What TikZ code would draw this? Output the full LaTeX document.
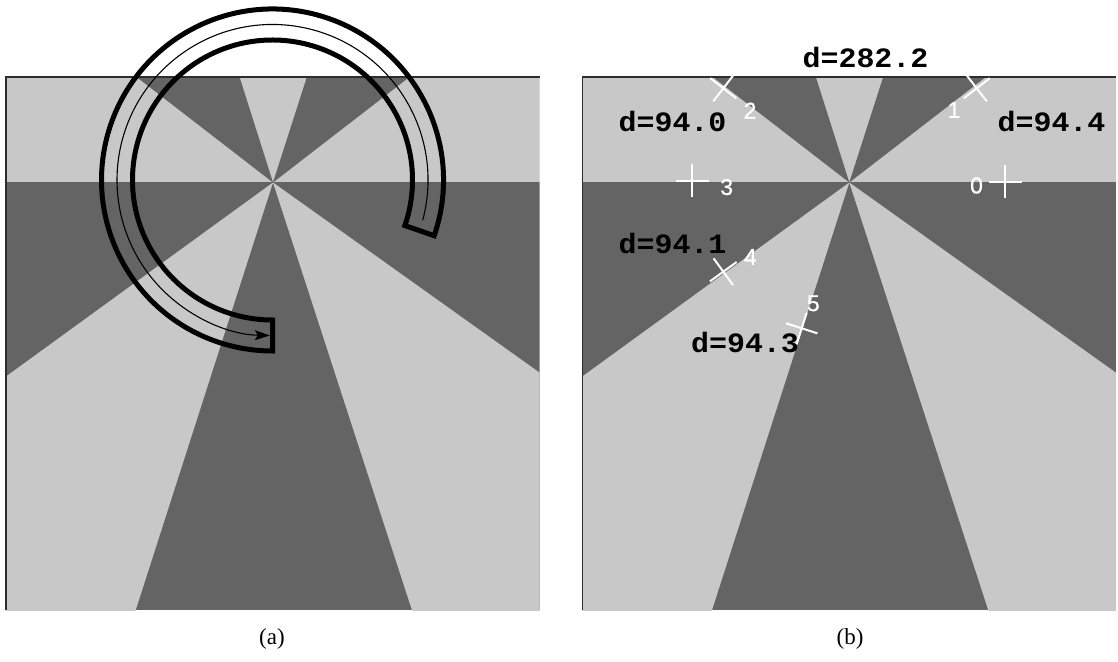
\documentclass[tikz,border=0pt]{standalone}
\usepackage{fontspec}
\usepackage{graphicx}
\setmainfont{Liberation Serif}
\newfontfamily\monofam{Liberation Mono}
\newfontfamily\digfam{Liberation Sans}[FakeBold=0.8]
\usetikzlibrary{arrows.meta}
\definecolor{lightg}{RGB}{200,200,200}
\definecolor{darkg}{RGB}{100,100,100}
\definecolor{framec}{RGB}{45,45,45}
\tikzset{
  ringline/.style={line width=5pt, black, line join=miter},
  midline/.style={line width=1.1pt, black, -{Stealth[length=15pt,width=10pt,inset=3pt]}},
  frameline/.style={line width=1.2pt, framec},
  mk/.style={white, line width=2pt},
  dlabel/.style={inner sep=0pt, anchor=base, font=\monofam\bfseries\fontsize{28}{28}\selectfont},
  numlabel/.style={inner sep=0pt, white, font=\digfam\fontsize{23}{23}\selectfont},
  caplabel/.style={inner sep=0pt, font=\fontsize{23}{23}\selectfont}
}
\newcommand\drawpanelbg{%
  \begin{scope}
    \clip (6,51) rectangle (539.5,584);
    \fill[lightg] (6,478.5) rectangle (539.5,584);
    \fill[darkg] (6,51) rectangle (539.5,478.5);
    \fill[darkg, shift={(273,478.5)}] (0,0) -- (37.7:900) -- (72.2:900) -- cycle;
    \fill[darkg, shift={(273,478.5)}] (0,0) -- (107.6:900) -- (142.3:900) -- cycle;
    \fill[lightg, shift={(273,478.5)}] (0,0) -- (216:900) -- (252.2:900) -- cycle;
    \fill[lightg, shift={(273,478.5)}] (0,0) -- (288:900) -- (324.5:900) -- cycle;
  \end{scope}
  \draw[frameline] (6,51) -- (6,584) -- (539.5,584);
}
\begin{document}
\begin{tikzpicture}[x=1pt,y=1pt]
\useasboundingbox (0,0) rectangle (1118,661);
% panel (a)
\drawpanelbg
\draw[ringline] (272.5,481) ++(-19:171) arc[start angle=-19,end angle=270,radius=171]
   -- ++(0,31) arc[start angle=270,end angle=-19,radius=140] -- cycle;
\draw[midline] (272.5,481) ++(-15:155.5) arc[start angle=-15,end angle=269,radius=155.5];
% panel (b)
\begin{scope}[shift={(576.3,0)}]
\drawpanelbg
\end{scope}
\node[dlabel] (d0) at (865.5,593) {\scalebox{1.07}[1]{d=282.2}};
\node[dlabel] (d1) at (1051.5,529) {\scalebox{1.07}[1]{d=94.4}};
\node[dlabel] (d2) at (672.5,529) {\scalebox{1.07}[1]{d=94.0}};
\node[dlabel] (d3) at (672.5,407.7) {\scalebox{1.07}[1]{d=94.1}};
\node[dlabel] (d4) at (745,308) {\scalebox{1.07}[1]{d=94.3}};
\begin{scope}
\clip (582.3,51) rectangle (1115.8,584);
\draw[mk, shift={(1005,479.3)}] (-16.5,0) -- (16.5,0) (0,-16.5) -- (0,16.5);
\draw[mk, shift={(976.7,572.7)}, rotate=37.7] (-16.5,0) -- (16.5,0) (0,-16.5) -- (0,16.5);
\draw[mk, shift={(723.3,572.7)}, rotate=142.3] (-16.5,0) -- (16.5,0) (0,-16.5) -- (0,16.5);
\draw[mk, shift={(692.3,480)}] (-16.5,0) -- (16.5,0) (0,-16.5) -- (0,16.5);
\draw[mk, shift={(723.3,389.3)}, rotate=36] (-16.5,0) -- (16.5,0) (0,-16.5) -- (0,16.5);
\draw[mk, shift={(801.7,332.7)}, rotate=72.2] (-16.5,0) -- (16.5,0) (0,-16.5) -- (0,16.5);
\end{scope}
\node[numlabel] (n0) at (976.5,475.5) {0};
\node[numlabel] (n1) at (954,551) {1};
\node[numlabel] (n2) at (750,550.3) {2};
\node[numlabel] (n3) at (726.7,474) {3};
\node[numlabel] (n4) at (750.3,404) {4};
\node[numlabel] (n5) at (813.3,357.7) {5};
% captions
\node[caplabel] (capa) at (272,22) {(a)};
\node[caplabel] (capb) at (850,22) {(b)};
\end{tikzpicture}
\end{document}
